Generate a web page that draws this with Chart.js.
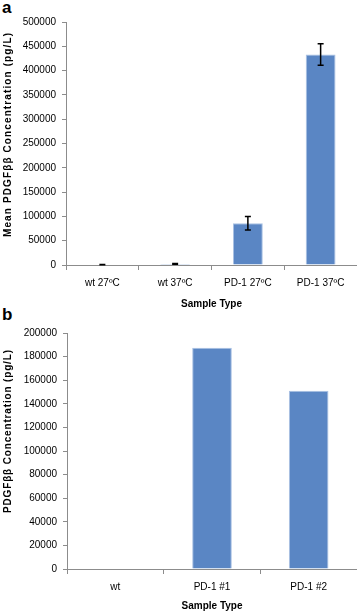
<!DOCTYPE html>
<html><head><meta charset="utf-8">
<script src="https://cdn.jsdelivr.net/npm/chart.js@4"></script>
<style>
html,body{margin:0;padding:0;background:#fff;width:357px;height:612px;overflow:hidden;font-family:"Liberation Sans",Arial,sans-serif;}
.box{position:absolute;left:0;width:357px;}
.lbl{position:absolute;left:2px;font-weight:bold;font-size:17px;line-height:1;}
</style></head><body>
<div class="lbl" style="top:-1px">a</div>
<div class="lbl" style="top:306px">b</div>
<div class="box" style="top:0;height:310px"><canvas id="ca"></canvas></div>
<div class="box" style="top:310px;height:302px"><canvas id="cb"></canvas></div>
<script>
const catsA = ["wt 27ºC", "wt 37ºC", "PD-1 27ºC", "PD-1 37ºC"];
const valsA = [800, 2200, 86000, 433000];
const errA = [300, 700, 14000, 22000];
const ticksA = [0, 50000, 100000, 150000, 200000, 250000, 300000, 350000, 400000, 450000, 500000];

const catsB = ["wt", "PD-1 #1", "PD-1 #2"];
const valsB = [0, 187500, 151000];
const ticksB = [0, 20000, 40000, 60000, 80000, 100000, 120000, 140000, 160000, 180000, 200000];

const FONT = "'Liberation Sans', Arial, sans-serif";
const AX = '#8c8c8c';

const errPlugin = {
  id: 'err',
  afterDatasetsDraw(chart, args, opts) {
    if (!opts.errors) return;
    const ctx = chart.ctx, x = chart.scales.x, y = chart.scales.y;
    const vals = chart.data.datasets[0].data;
    ctx.save();
    ctx.strokeStyle = '#000'; ctx.lineWidth = 1.5;
    vals.forEach((v, i) => {
      const e = opts.errors[i];
      const cx = x.getPixelForValue(i);
      const t = y.getPixelForValue(v + e), b = y.getPixelForValue(v - e);
      ctx.beginPath();
      ctx.moveTo(cx, t); ctx.lineTo(cx, b);
      ctx.moveTo(cx - 3, t); ctx.lineTo(cx + 3, t);
      ctx.moveTo(cx - 3, b); ctx.lineTo(cx + 3, b);
      ctx.stroke();
    });
    ctx.restore();
  }
};

const yTitlePlugin = {
  id: 'ytitle',
  afterDraw(chart, args, o) {
    const ctx = chart.ctx;
    ctx.save();
    ctx.font = 'bold ' + o.size + 'px ' + FONT;
    ctx.fillStyle = '#000';
    const n = o.text.length;
    const w0 = ctx.measureText(o.text).width;
    const ls = Math.max(0, (o.length - w0) / (n - 1));
    ctx.letterSpacing = ls + 'px';
    ctx.translate(o.x, o.cy);
    ctx.rotate(-Math.PI / 2);
    ctx.textAlign = 'center';
    ctx.textBaseline = 'middle';
    ctx.fillText(o.text, ls / 2, 0);
    ctx.restore();
  }
};

function make(id, cats, vals, ticks, yTitle, top, yW, xH, errors) {
  const maxV = ticks[ticks.length - 1];
  return new Chart(document.getElementById(id), {
    type: 'bar',
    data: { labels: cats, datasets: [{ data: vals, backgroundColor: '#5A86C4', borderColor: '#A9C1E3', borderWidth: {left:1,right:1,top:1,bottom:0}, categoryPercentage: 0.41, barPercentage: 1 }] },
    plugins: [errPlugin, yTitlePlugin],
    options: {
      responsive: true, maintainAspectRatio: false, animation: false,
      layout: { padding: { top: top, right: 0, left: 0, bottom: 0 } },
      plugins: { legend: { display: false }, tooltip: { enabled: false }, err: { errors: errors }, ytitle: yTitle },
      scales: {
        x: {
          grid: { display: true, drawOnChartArea: false, drawTicks: true, tickLength: 5, color: AX, offset: true },
          border: { color: AX, width: 1 },
          ticks: { color: '#000', font: { family: FONT, size: 10 }, padding: 7, maxRotation: 0 },
          title: { display: true, text: 'Sample Type', color: '#000', font: { family: FONT, size: 10, weight: 'bold' }, padding: { top: 3, bottom: 0 } },
          afterFit: s => { s.height = xH; }
        },
        y: {
          min: 0, max: maxV,
          afterBuildTicks: s => { s.ticks = ticks.map(v => ({ value: v })); },
          grid: { display: true, drawOnChartArea: false, drawTicks: true, tickLength: 4, color: AX },
          border: { color: AX, width: 1 },
          ticks: { color: '#000', font: { family: FONT, size: 10 }, padding: 6, callback: v => String(v) },
          afterFit: s => { s.width = yW; }
        }
      }
    }
  });
}
make('ca', catsA, valsA, ticksA, { text: 'Mean PDGFββ Concentration (pg/L)', size: 10, length: 204, x: 8, cy: 135 }, 22, 66, 45, errA);
make('cb', catsB, valsB, ticksB, { text: 'PDGFββ Concentration (pg/L)', size: 10, length: 163, x: 8, cy: 121.5 }, 23, 67, 43, null);
</script></body></html>
